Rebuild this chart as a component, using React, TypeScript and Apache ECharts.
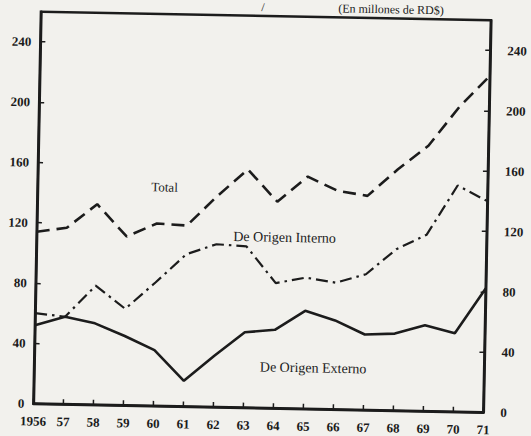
import { useEffect, useRef } from 'react';
import * as echarts from 'echarts';

const years = [1956, 1957, 1958, 1959, 1960, 1961, 1962, 1963, 1964, 1965, 1966, 1967, 1968, 1969, 1970, 1971];
const yearLabels = ['1956', '57', '58', '59', '60', '61', '62', '63', '64', '65', '66', '67', '68', '69', '70', '71'];
const total = [114, 117, 133, 112, 121, 120, 140, 158, 137, 154, 145, 142, 160, 176, 202, 223];
const interno = [60, 58, 79, 64, 82, 101, 108, 107, 83, 87, 84, 90, 107, 117, 150, 140];
const externo = [52, 58, 54, 46, 37, 17, 34, 50, 52, 65, 59, 50, 51, 57, 52, 82];
const yTickValues = [0, 40, 80, 120, 160, 200, 240];

const INK = '#1c1c1c';
const FONT = '"Liberation Serif", "DejaVu Serif", serif';

export default function App() {
  const ref = useRef<HTMLDivElement>(null);
  useEffect(() => {
    const chart = echarts.init(ref.current!, null, { renderer: 'svg' });
    const yLabel = (v: number) => (yTickValues.indexOf(v) >= 0 ? String(v) : '');
    const axisText = { color: INK, fontFamily: FONT, fontWeight: 'bold' as const, fontSize: 13 };
    const mkY = (position: 'left' | 'right', margin: number) => ({
      type: 'value',
      position,
      min: 0,
      max: 260,
      interval: 40,
      axisLine: { show: true, lineStyle: { color: INK, width: 2.5 } },
      axisTick: { show: true, inside: true, length: 5, lineStyle: { color: INK, width: 1.5 } },
      axisLabel: { ...axisText, margin, formatter: yLabel },
      splitLine: { show: false },
    });
    const txt = (text: string, x: number, y: number, size: number, weight = 'normal') => ({
      type: 'text',
      x,
      y,
      silent: true,
      style: {
        text,
        fill: INK,
        font: `${weight} ${size}px ${FONT}`,
        textAlign: 'center',
        textVerticalAlign: 'middle',
        align: 'center',
        verticalAlign: 'middle',
      },
    });
    chart.setOption({
      animation: false,
      backgroundColor: 'transparent',
      grid: { left: 37, right: 44, top: 16, bottom: 28, show: true, borderColor: INK, borderWidth: 2.5 },
      xAxis: {
        type: 'value',
        min: 1956,
        max: 1971,
        interval: 1,
        axisLine: { show: true, lineStyle: { color: INK, width: 2.5 } },
        axisTick: { show: true, inside: true, length: 5, lineStyle: { color: INK, width: 1.5 } },
        axisLabel: {
          ...axisText,
          margin: 11,
          formatter: (v: number) => yearLabels[years.indexOf(v)] ?? '',
        },
        splitLine: { show: false },
      },
      yAxis: [mkY('left', 9), mkY('right', 17)],
      series: [
        {
          name: 'Total',
          type: 'line',
          symbol: 'none',
          data: years.map((y, i) => [y, total[i]]),
          lineStyle: { color: INK, width: 2.6, type: [13, 7] },
        },
        {
          name: 'De Origen Interno',
          type: 'line',
          symbol: 'none',
          data: years.map((y, i) => [y, interno[i]]),
          lineStyle: { color: INK, width: 2.2, type: [12, 5, 2.5, 5] },
        },
        {
          name: 'De Origen Externo',
          type: 'line',
          symbol: 'none',
          data: years.map((y, i) => [y, externo[i]]),
          lineStyle: { color: INK, width: 2.6 },
        },
      ],
      graphic: [
        txt('(En millones de RD$)', 387, 7, 12),
        txt('/', 259, 7, 12),
        txt('Total', 164, 189, 13),
        txt('De Origen Interno', 285, 237, 14),
        txt('De Origen Externo', 316, 367, 14),
      ],
    });
    return () => chart.dispose();
  }, []);
  return (
    <div
      style={{
        position: 'fixed',
        left: 0,
        top: 0,
        width: 531,
        height: 436,
        background: '#f2f1ed',
        overflow: 'hidden',
      }}
    >
      <div
        ref={ref}
        style={{ width: 531, height: 436, transform: 'rotate(1.1deg)', transformOrigin: '50% 50%' }}
      />
    </div>
  );
}
